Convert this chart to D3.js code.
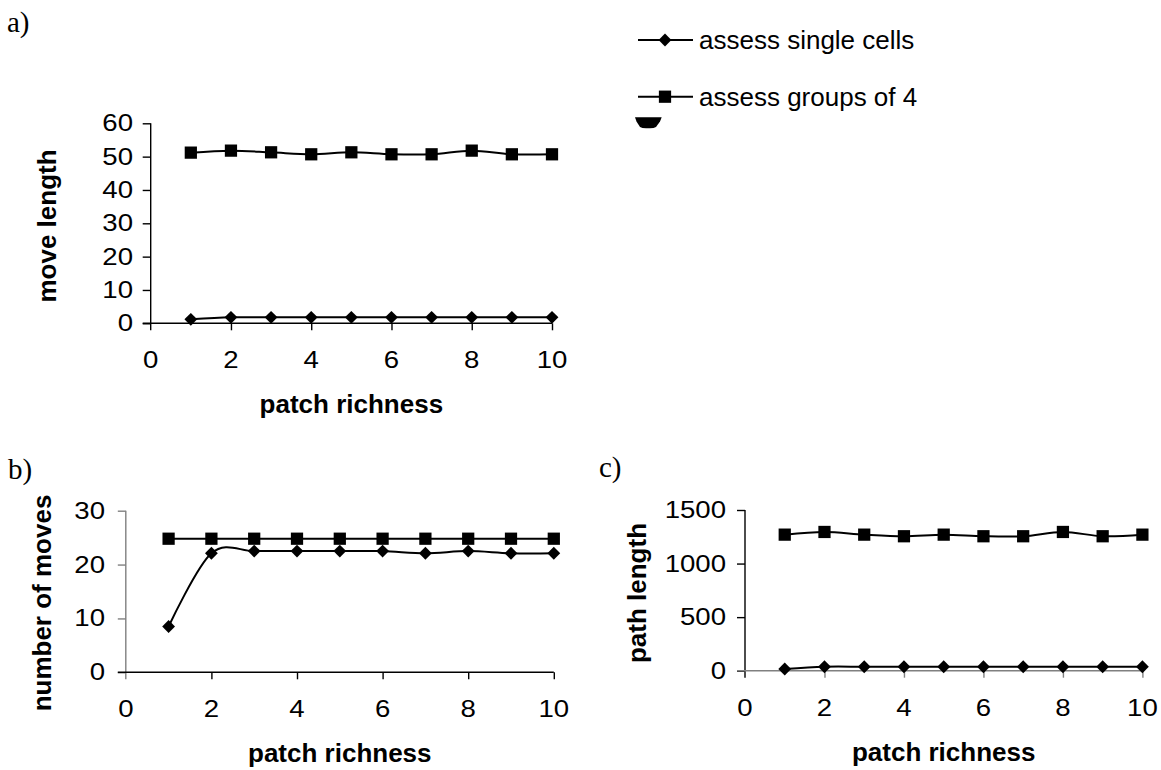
<!DOCTYPE html>
<html>
<head>
<meta charset="utf-8">
<script src="https://cdn.jsdelivr.net/npm/d3@7"></script>
<style>
  html, body { margin: 0; padding: 0; background: #fff; }
  svg { display: block; }
</style>
</head>
<body>
<svg id="fig" width="1161" height="770"></svg>
<script>
// Patch richness (x) shared by all three panels
const richness = [1, 2, 3, 4, 5, 6, 7, 8, 9, 10];

// a) move length
const moveSingle = [1.2, 1.8, 1.8, 1.8, 1.8, 1.8, 1.8, 1.8, 1.8, 1.8];
const moveGroups = [51.2, 51.8, 51.3, 50.7, 51.3, 50.7, 50.7, 51.8, 50.7, 50.7];

// b) number of moves
const countSingle = [8.5, 22.1, 22.5, 22.5, 22.5, 22.5, 22.1, 22.5, 22.1, 22.1];
const countGroups = [24.8, 24.8, 24.8, 24.8, 24.8, 24.8, 24.8, 24.8, 24.8, 24.8];

// c) path length
const pathSingle = [16, 37, 37, 37, 37, 37, 37, 37, 37, 37];
const pathGroups = [1270, 1295, 1270, 1255, 1270, 1255, 1255, 1295, 1255, 1270];

// Tick labels
const xTicks = [0, 2, 4, 6, 8, 10];
const moveTicks = [0, 10, 20, 30, 40, 50, 60];
const countTicks = [0, 10, 20, 30];
const pathTicks = [0, 500, 1000, 1500];

const seriesNames = ["assess single cells", "assess groups of 4"];

const SANS = "Arial, 'Liberation Sans', sans-serif";
const SERIF = "'Times New Roman', 'Liberation Serif', serif";
const svg = d3.select("#fig");

const diamond = d3.symbol().type(d3.symbolDiamond2).size(105);
const square = d3.symbol().type(d3.symbolSquare).size(150);

function panel(cfg) {
  const x = d3.scaleLinear().domain([0, 10]).range([cfg.left, cfg.right]);
  const y = d3.scaleLinear().domain([0, cfg.yMax]).range([cfg.bottom, cfg.top]);
  const g = svg.append("g");

  // y axis
  const ya = g.append("g").attr("transform", `translate(${cfg.left},0)`)
    .call(d3.axisLeft(y).tickValues(cfg.yTicks).tickSize(8).tickFormat(""));
  ya.selectAll("path, line").attr("stroke", cfg.yAxisColor).attr("stroke-width", 1.4);
  ya.select(".domain").attr("d", `M0,${cfg.bottom + 7}V${cfg.top}`);

  // x axis
  const xa = g.append("g").attr("transform", `translate(0,${cfg.bottom})`)
    .call(d3.axisBottom(x).tickValues(xTicks).tickSize(7).tickFormat(""));
  xa.selectAll("path, line").attr("stroke", cfg.xAxisColor).attr("stroke-width", 1.4);
  xa.select(".domain").attr("d", `M${cfg.left - 8},0H${cfg.right}`);
  xa.selectAll(".tick").filter(d => d === 0).remove();

  // tick labels
  g.selectAll(".ylab").data(cfg.yTicks).join("text")
    .attr("transform", d => `translate(${cfg.labelRight},${y(d) + 8}) scale(1.2,1)`)
    .attr("text-anchor", "end")
    .attr("font-family", SANS).attr("font-size", 23).attr("fill", "#000")
    .text(d => d);
  g.selectAll(".xlab").data(xTicks).join("text")
    .attr("transform", d => `translate(${x(d)},${cfg.bottom + 45}) scale(1.2,1)`)
    .attr("text-anchor", "middle")
    .attr("font-family", SANS).attr("font-size", 23).attr("fill", "#000")
    .text(d => d);

  // axis titles
  g.append("text")
    .attr("x", (cfg.left + cfg.right) / 2).attr("y", cfg.bottom + 90)
    .attr("text-anchor", "middle")
    .attr("font-family", SANS).attr("font-weight", "bold").attr("font-size", 26)
    .text("patch richness");
  g.append("text")
    .attr("transform", `translate(${cfg.yTitleX},${cfg.yTitleY}) rotate(-90)`)
    .attr("text-anchor", "middle")
    .attr("font-family", SANS).attr("font-weight", "bold").attr("font-size", 26)
    .text(cfg.yTitle);

  // panel letter
  g.append("text")
    .attr("x", cfg.tagX).attr("y", cfg.tagY)
    .attr("font-family", SERIF).attr("font-size", 29)
    .text(cfg.tag);

  // smoothed series lines with markers
  const line = d3.line()
    .x((d, i) => x(richness[i]))
    .y(d => y(d))
    .curve(d3.curveCardinal.tension(0));

  [[cfg.groups, square], [cfg.single, diamond]].forEach(([vals, sym]) => {
    g.append("path").attr("d", line(vals))
      .attr("fill", "none").attr("stroke", "#000").attr("stroke-width", 2);
    g.selectAll(null).data(vals).join("path")
      .attr("transform", (d, i) => `translate(${x(richness[i])},${y(d)})`)
      .attr("d", sym)
      .attr("fill", "#000");
  });
}

panel({
  left: 150.7, right: 552, top: 123.3, bottom: 323.3, yMax: 60,
  yTicks: moveTicks, single: moveSingle, groups: moveGroups,
  labelRight: 133, yTitle: "move length", yTitleX: 56, yTitleY: 226,
  xAxisColor: "#000", yAxisColor: "#000",
  tag: "a)", tagX: 7, tagY: 32
});

panel({
  left: 125.8, right: 553.8, top: 510.7, bottom: 672.3, yMax: 30,
  yTicks: countTicks, single: countSingle, groups: countGroups,
  labelRight: 105, yTitle: "number of moves", yTitleX: 51, yTitleY: 603,
  xAxisColor: "#000", yAxisColor: "#808080",
  tag: "b)", tagX: 8, tagY: 479
});

panel({
  left: 745, right: 1142.4, top: 510, bottom: 670.7, yMax: 1500,
  yTicks: pathTicks, single: pathSingle, groups: pathGroups,
  labelRight: 726, yTitle: "path length", yTitleX: 646, yTitleY: 593,
  xAxisColor: "#808080", yAxisColor: "#000",
  tag: "c)", tagX: 599, tagY: 477
});

// legend
const legend = svg.append("g");
[[seriesNames[0], diamond, 40], [seriesNames[1], square, 96.7]].forEach(([name, sym, ly]) => {
  legend.append("line").attr("x1", 638).attr("x2", 693).attr("y1", ly).attr("y2", ly)
    .attr("stroke", "#000").attr("stroke-width", 2);
  legend.append("path").attr("transform", `translate(665,${ly})`).attr("d", sym).attr("fill", "#000");
  legend.append("text").attr("x", 699).attr("y", ly + 9)
    .attr("font-family", SANS).attr("font-size", 26).text(name);
});
// clipped marker fragment under the legend entries
legend.append("path")
  .attr("d", "M635,117.3 L661.7,117.3 L660,121.5 L656,127 Q654,128.3 650,128.3 L646,128.3 Q642,128.3 640,127 L636.5,121.5 Z")
  .attr("fill", "#000");
</script>
</body>
</html>
